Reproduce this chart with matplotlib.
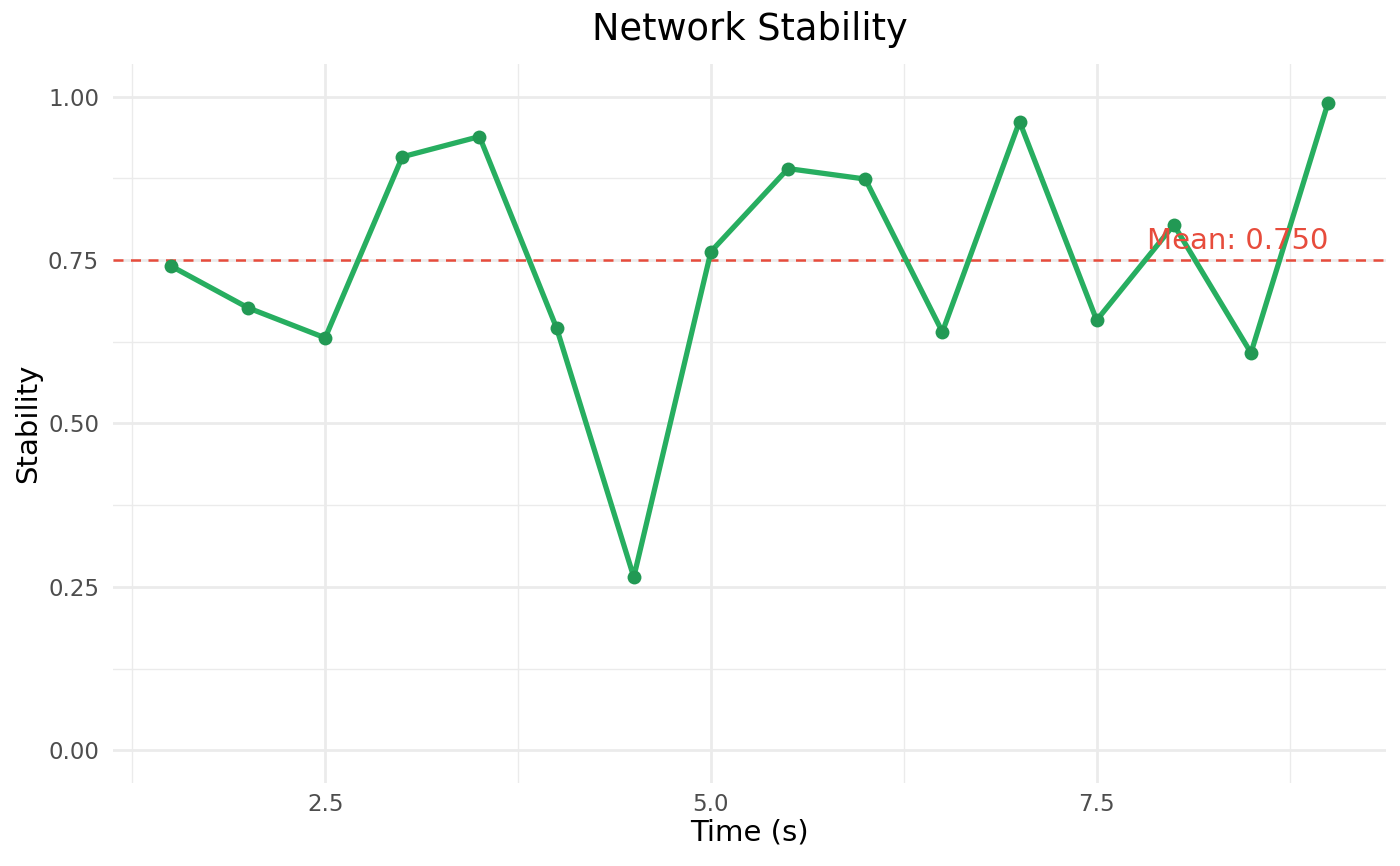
import matplotlib
matplotlib.use("Agg")
import matplotlib.pyplot as plt
import numpy as np

# data
time_s = [1.5, 2.0, 2.5, 3.0, 3.5, 4.0, 4.5, 5.0, 5.5, 6.0, 6.5, 7.0, 7.5, 8.0, 8.5, 9.0]
stability = [0.741, 0.677, 0.631, 0.908, 0.939, 0.646, 0.265, 0.763,
             0.890, 0.874, 0.640, 0.962, 0.658, 0.804, 0.608, 0.991]
x_ticks = [2.5, 5.0, 7.5]
x_minor = [1.25, 3.75, 6.25, 8.75]
y_ticks = [0.0, 0.25, 0.50, 0.75, 1.00]
y_minor = [0.125, 0.375, 0.625, 0.875]

mean_val = np.mean(stability)

fig = plt.figure(figsize=(14, 8.66), dpi=100)
ax = fig.add_axes([113 / 1400, 1 - 783 / 866, (1386 - 113) / 1400, (783 - 64) / 866])

for v in x_ticks:
    ax.axvline(v, color="#ebebeb", lw=2.0, zorder=0)
for v in x_minor:
    ax.axvline(v, color="#ebebeb", lw=1.0, zorder=0)
for v in y_ticks:
    ax.axhline(v, color="#ebebeb", lw=2.0, zorder=0)
for v in y_minor:
    ax.axhline(v, color="#ebebeb", lw=1.0, zorder=0)

ax.axhline(mean_val, color="#E74C3C", lw=1.8, ls=(0, (4, 3)), zorder=1)
ax.plot(time_s, stability, color="#27AE60", lw=3.8, zorder=2)
ax.scatter(time_s, stability, s=100, color="#229954", zorder=3, linewidths=0)

ax.text(9.0, mean_val + 0.017, f"Mean: {mean_val:.3f}", color="#E74C3C",
        fontsize=21, ha="right", va="baseline", zorder=4)

ax.set_xlim(1.125, 9.375)
ax.set_ylim(-0.05, 1.05)
ax.set_xticks(x_ticks)
ax.set_xticklabels(["2.5", "5.0", "7.5"])
ax.set_yticks(y_ticks)
ax.set_yticklabels(["0.00", "0.25", "0.50", "0.75", "1.00"])
ax.tick_params(axis="x", length=0, labelsize=16.5, labelcolor="#4d4d4d", pad=7)
ax.tick_params(axis="y", length=0, labelsize=16.5, labelcolor="#4d4d4d", pad=10)
for s in ax.spines.values():
    s.set_visible(False)

ax.set_xlabel("Time (s)", fontsize=21, labelpad=2)
ax.set_ylabel("Stability", fontsize=21, labelpad=4)
ax.set_title("Network Stability", fontsize=26.5, pad=17)

fig.savefig("out.png", dpi=100)
